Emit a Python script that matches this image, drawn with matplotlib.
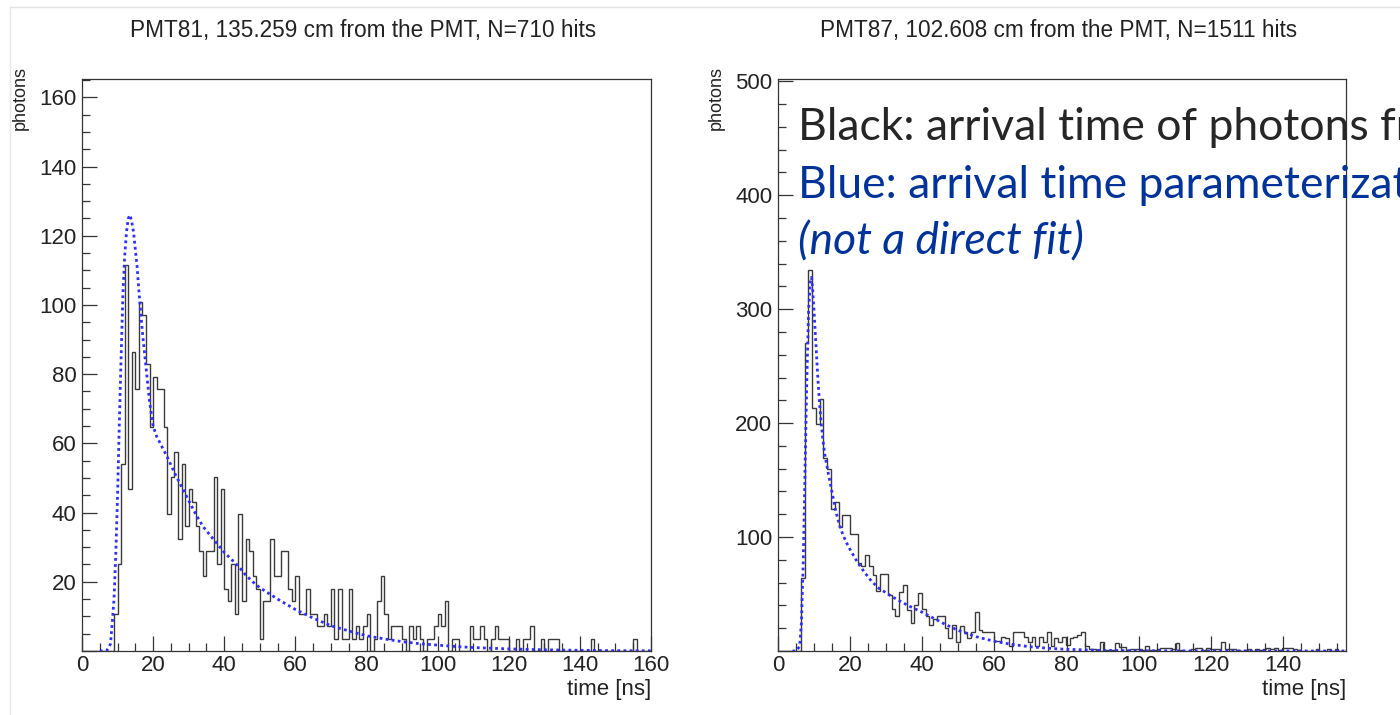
import numpy as np
import matplotlib.pyplot as plt
from matplotlib.ticker import MultipleLocator, FuncFormatter
from matplotlib.lines import Line2D

# ---- data ----

left_title = "PMT81, 135.259 cm from the PMT, N=710 hits"
right_title = "PMT87, 102.608 cm from the PMT, N=1511 hits"

# PMT81: 160 bins of 1 ns, 0..160 ns
left_photons = [
    0, 0, 0, 0, 0, 0, 0, 0, 0, 10.8,
    25.2, 54.0, 111.6, 46.8, 86.4, 75.6, 100.8, 97.2, 82.8, 64.8,
    79.2, 75.6, 75.6, 64.8, 39.6, 50.4, 57.6, 32.4, 54.0, 36.0,
    46.8, 43.2, 36.0, 28.8, 21.6, 28.8, 28.8, 50.4, 25.2, 46.8,
    18.0, 14.4, 25.2, 10.8, 39.6, 14.4, 32.4, 28.8, 21.6, 18.0,
    3.6, 14.4, 14.4, 32.4, 21.6, 21.6, 28.8, 28.8, 18.0, 14.4,
    21.6, 10.8, 10.8, 18.0, 10.8, 10.8, 7.2, 7.2, 10.8, 7.2,
    18.0, 3.6, 18.0, 3.6, 3.6, 18.0, 3.6, 7.2, 3.6, 7.2,
    10.8, 0, 3.6, 14.4, 21.6, 10.8, 3.6, 7.2, 7.2, 7.2,
    3.6, 0, 7.2, 3.6, 7.2, 3.6, 0, 3.6, 3.6, 7.2,
    10.8, 7.2, 14.4, 0, 3.6, 3.6, 0, 0, 0, 7.2,
    3.6, 3.6, 7.2, 3.6, 0, 3.6, 7.2, 3.6, 3.6, 3.6,
    0, 0, 3.6, 0, 3.6, 3.6, 7.2, 0, 0, 3.6,
    0, 3.6, 3.6, 3.6, 0, 0, 0, 0, 0, 0,
    0, 0, 0, 3.6, 0, 0, 0, 0, 0, 0,
    0, 0, 0, 0, 0, 3.6, 0, 0, 0, 0,
]

# PMT87: 150 bins of 1.05 ns, 0..157.5 ns
right_photons = [
    0, 0, 0, 0, 0, 0, 64, 270, 334, 213,
    199, 221, 169, 160, 125, 131, 109, 119, 119, 103,
    103, 77, 75, 84, 75, 67, 53, 68, 68, 49,
    37, 31, 52, 58, 36, 25, 40, 51, 37, 31,
    23, 28, 31, 31, 20, 11, 23, 8, 22, 17,
    11, 17, 34, 18, 17, 17, 17, 9, 9, 12,
    11, 4, 17, 17, 17, 12, 8, 12, 4, 12,
    8, 17, 4, 11, 8, 12, 5, 11, 12, 14,
    17, 4, 2, 2, 0, 8, 1, 1, 1, 7,
    3.5, 3.5, 1, 2, 2, 2, 1, 4, 1, 1,
    2, 3, 3, 3, 2, 7, 1, 0, 0, 2,
    3, 3, 1, 3, 2, 2, 2, 8, 2, 2,
    2, 1, 0, 1, 2, 0, 2, 1, 2, 3,
    2, 3, 1, 3, 3, 3, 2, 1, 0, 0,
    0, 0, 2, 0, 0, 2, 0, 2, 0, 0,
]

# arrival time parameterization (blue dotted)
left_param_t = [5, 7, 8, 8.5, 9, 9.5, 10, 10.5, 11, 11.5, 12, 12.5, 13, 13.5,
                14, 14.5, 15, 15.5, 16, 16.5, 17, 17.5, 18, 18.5, 19, 19.5,
                20, 21, 22, 23, 24, 26, 28, 30, 32, 34, 36, 38, 40, 42, 44,
                46, 48, 50, 55, 60, 65, 70, 75, 80, 85, 90, 95, 100, 105,
                110, 120, 130, 140, 150, 160]
left_param_v = [0, 0.2, 2, 8, 15, 28, 45, 66, 85, 103, 114, 121, 125, 126,
                124, 121, 116, 111, 104, 98, 92, 87, 82, 77, 72, 68.5,
                65, 62, 60, 58, 56, 51.5, 47.5, 43.5, 39.5, 36, 33.5, 31,
                28.5, 26.5, 24.5, 22, 20, 18.3, 15, 12, 9.5, 7.3, 5.8, 4.4,
                3.5, 2.7, 2.1, 1.7, 1.3, 1.0, 0.6, 0.35, 0.2, 0.1, 0.05]

right_param_t = [4, 5, 6, 6.5, 7, 7.5, 8, 8.5, 9, 9.3, 9.6, 10, 10.5, 11,
                 11.5, 12, 12.5, 13, 14, 15, 16, 17, 18, 19, 20, 22, 24,
                 26, 28, 30, 32, 34, 36, 38, 40, 43, 46, 50, 55, 60, 65,
                 70, 75, 80, 90, 100, 120, 157.5]
right_param_v = [0, 0, 4, 25, 78, 160, 240, 300, 324, 328, 318, 298, 270,
                 242, 218, 199, 184, 172, 155, 139, 123, 111, 102, 95, 89,
                 78, 69, 61, 55, 51, 47, 43.5, 40, 37, 34, 29, 24, 18,
                 12.5, 8.5, 5.7, 3.7, 2.4, 1.5, 0.5, 0.2, 0.05, 0]

# ---- figure ----

W, H = 1400, 715
fig = plt.figure(figsize=(W / 100, H / 100), dpi=100)
fig.set_facecolor('white')
plt.rcParams['font.family'] = ['Liberation Sans', 'DejaVu Sans']


def fx(px):
    return px / W


def fy(py):
    return 1 - py / H


def no_zero(v, pos):
    if abs(v) < 1e-9:
        return ''
    return '%g' % v


def root_style(ax, xmax, ymax, ymaj, ymin):
    ax.set_xlim(0, xmax)
    ax.set_ylim(0, ymax)
    ax.xaxis.set_major_locator(MultipleLocator(20))
    ax.xaxis.set_minor_locator(MultipleLocator(5))
    ax.yaxis.set_major_locator(MultipleLocator(ymaj))
    ax.yaxis.set_minor_locator(MultipleLocator(ymin))
    ax.yaxis.set_major_formatter(FuncFormatter(no_zero))
    ax.tick_params(which='both', direction='in', top=False, right=False,
                   color='#333333', width=0.9, labelsize=16,
                   labelcolor='#222222')
    ax.tick_params(which='major', length=10.5)
    ax.tick_params(which='minor', length=5.5)
    ax.tick_params(axis='x', pad=3)
    ax.tick_params(axis='y', pad=4)
    for s in ax.spines.values():
        s.set_color('#333333')
        s.set_linewidth(0.9)


ax1 = fig.add_axes([fx(82), fy(651), fx(651 - 82), (651 - 79) / H])
ax2 = fig.add_axes([fx(778), fy(651), fx(1346 - 778), (651 - 79) / H])

left_edges = np.arange(0, 161, 1.0)
right_edges = np.linspace(0, 157.5, 151)

ax1.stairs(left_photons, left_edges, color='#3a3a3a', lw=1.0)
ax1.plot(left_param_t, left_param_v, color='#2f2fff', lw=2.0,
         linestyle=(0, (1, 1.2)))
root_style(ax1, 160, 165.3, 20, 5)

ax2.stairs(right_photons, right_edges, color='#3a3a3a', lw=1.0)
ax2.plot(right_param_t, right_param_v, color='#2f2fff', lw=2.0,
         linestyle=(0, (1, 1.2)))
root_style(ax2, 157.5, 502, 100, 20)

# titles and axis labels, ROOT-like placement
fig.text(fx(363), fy(30), left_title, ha='center', va='center',
         fontsize=16.3, color='#222222')
fig.text(fx(1059), fy(30), right_title, ha='center', va='center',
         fontsize=16.3, color='#222222')

fig.text(fx(20), fy(66), 'photons', rotation=90, ha='center', va='top',
         fontsize=13, color='#222222')
fig.text(fx(716), fy(66), 'photons', rotation=90, ha='center', va='top',
         fontsize=13, color='#222222')

fig.text(fx(651), fy(690), 'time [ns]', ha='right', va='center',
         fontsize=16, color='#222222')
fig.text(fx(1346), fy(690), 'time [ns]', ha='right', va='center',
         fontsize=16, color='#222222')

# slide annotation (runs off the right edge like the original)
slide_font = ['Lato', 'DejaVu Sans']
fig.text(fx(798), fy(128), 'Black: arrival time of photons from simulation',
         ha='left', va='center', fontsize=32, color='#262626',
         family=slide_font)
fig.text(fx(798), fy(185), 'Blue: arrival time parameterization',
         ha='left', va='center', fontsize=32, color='#003399',
         family=slide_font)
fig.text(fx(798), fy(242), '(not a direct fit)',
         ha='left', va='center', fontsize=32, color='#003399',
         style='italic', family=slide_font)

# faint slide border from the screenshot
fig.add_artist(Line2D([fx(10), 1], [fy(7), fy(7)], color='#e2e2e2', lw=1))
fig.add_artist(Line2D([fx(10), fx(10)], [fy(7), 0], color='#e8e8e8', lw=1))

fig.savefig('out.png', dpi=100)
